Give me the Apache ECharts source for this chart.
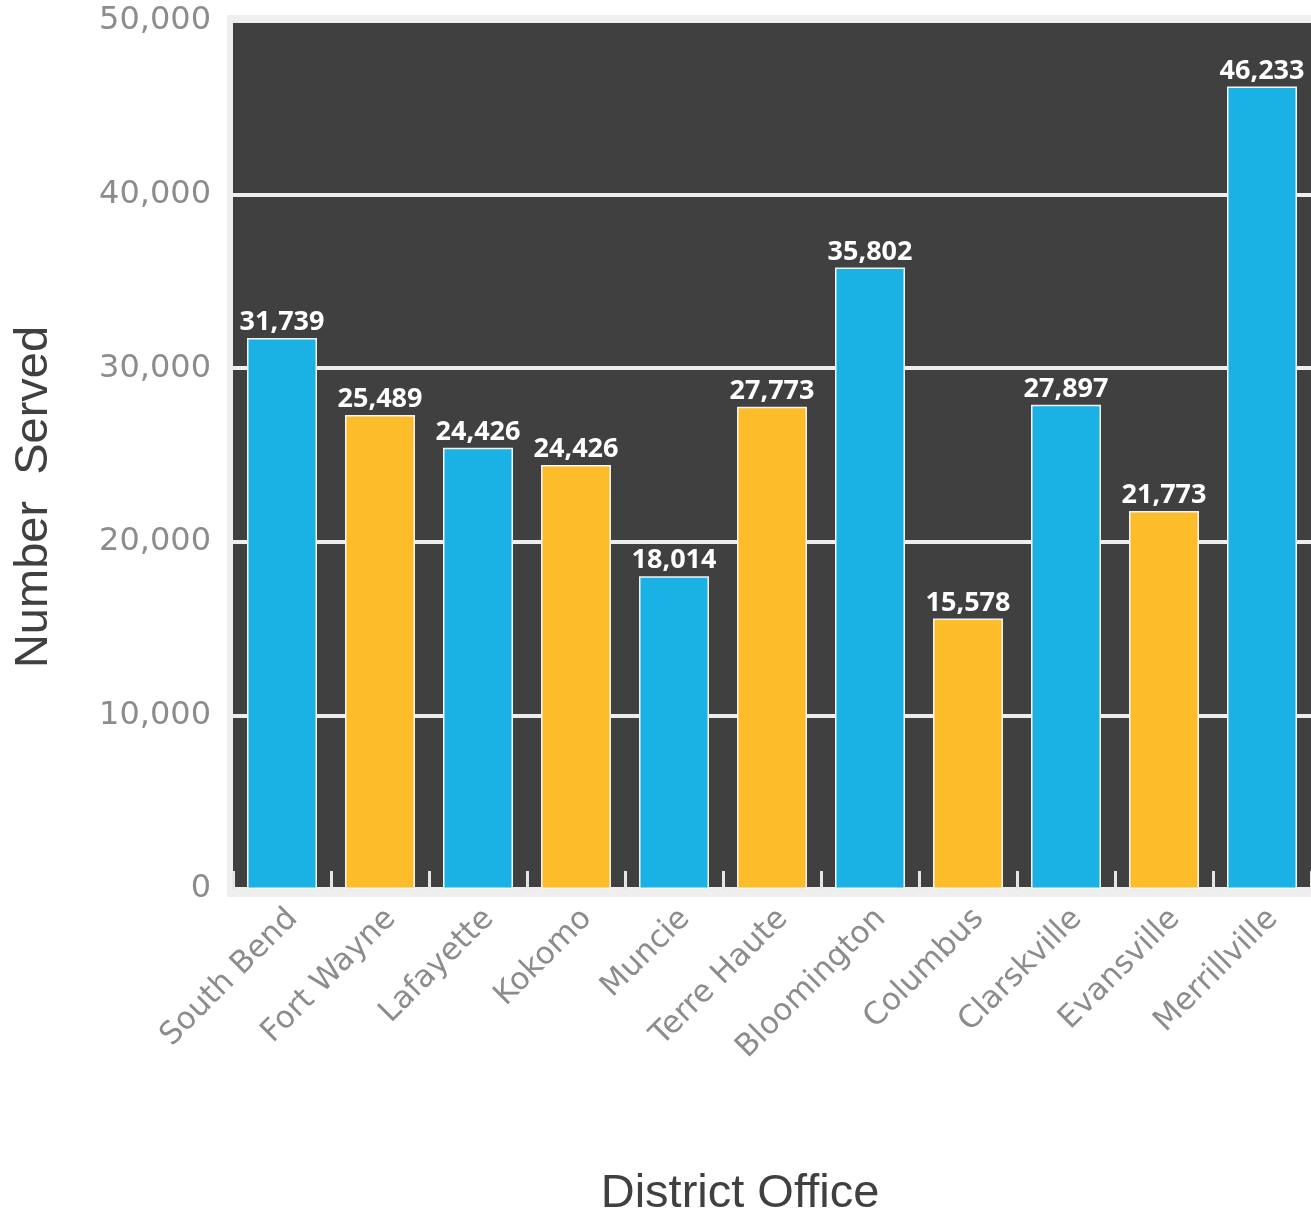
<!DOCTYPE html>
<html>
<head>
<meta charset="utf-8">
<script src="https://cdn.jsdelivr.net/npm/echarts@6/dist/echarts.min.js"></script>
<style>
  html, body { margin: 0; padding: 0; background: #fff; }
  #chart { width: 1311px; height: 1217px; }
</style>
</head>
<body>
<div id="chart"></div>
<script>
// 区域办公室
const offices = ['South Bend', 'Fort Wayne', 'Lafayette', 'Kokomo', 'Muncie', 'Terre Haute',
  'Bloomington', 'Columbus', 'Clarskville', 'Evansville', 'Merrillville']
// 柱子高度
const barValues = [31739, 27300, 25420, 24426, 18014, 27773, 35802, 15578, 27897, 21773, 46233]
// 柱顶显示的文字
const barLabels = ['31,739', '25,489', '24,426', '24,426', '18,014', '27,773',
  '35,802', '15,578', '27,897', '21,773', '46,233']
const yTicks = [0, 10000, 20000, 30000, 40000, 50000]

const blue = '#1ab1e5'
const yellow = '#fdbc2a'

let myChart = echarts.init(document.getElementById('chart'))
myChart.setOption({
  animation: false,
  // 灰色外框
  graphic: [{
    type: 'rect',
    z: -10,
    shape: { x: 227, y: 15, width: 1100, height: 882 },
    style: { fill: '#efefef' }
  }],
  grid: {
    left: 233,
    right: 0,
    top: 21,
    bottom: 328,
    outerBoundsMode: 'none',
    containLabel: false,
    show: true,
    backgroundColor: '#404040',
    borderWidth: 0
  },
  xAxis: {
    type: 'category',
    data: offices,
    name: 'District Office',
    nameLocation: 'middle',
    nameGap: 282,
    nameMoveOverlap: false,
    nameTextStyle: {
      fontFamily: 'Liberation Sans',
      fontSize: 47,
      color: '#404040',
      padding: [0, 64, 0, 0]
    },
    axisLine: { show: false },
    axisTick: {
      show: true,
      inside: true,
      length: 18,
      lineStyle: { color: '#e6e6e6', width: 3 }
    },
    axisLabel: {
      rotate: 45,
      margin: 14,
      verticalAlign: 'top',
      fontFamily: 'DejaVu Sans',
      fontSize: 31,
      color: '#8c8c8c'
    }
  },
  yAxis: {
    type: 'value',
    min: yTicks[0],
    max: yTicks[yTicks.length - 1],
    interval: yTicks[1] - yTicks[0],
    name: 'Number  Served',
    nameLocation: 'middle',
    nameGap: 175,
    nameMoveOverlap: false,
    nameTextStyle: {
      fontFamily: 'Liberation Sans',
      fontSize: 47,
      color: '#404040',
      padding: [0, 84, 0, 0]
    },
    axisLine: { show: false },
    axisTick: { show: false },
    axisLabel: {
      margin: 22,
      fontFamily: 'DejaVu Sans',
      fontSize: 32,
      color: '#8c8c8c',
      formatter: v => v.toLocaleString('en-US')
    },
    splitLine: {
      show: true,
      lineStyle: { color: '#eeeeee', width: 4 }
    }
  },
  series: [{
    type: 'bar',
    data: barValues,
    barWidth: 70,
    itemStyle: {
      color: p => (p.dataIndex % 2 === 0 ? blue : yellow),
      borderColor: '#f4f4f4',
      borderWidth: 1.5
    },
    label: {
      show: true,
      position: 'top',
      distance: 2,
      fontFamily: 'Open Sans',
      fontWeight: 'bold',
      fontSize: 27,
      color: '#ffffff',
      formatter: p => barLabels[p.dataIndex]
    }
  }]
})
window.addEventListener('resize', function () {
  myChart.resize()
})
</script>
</body>
</html>
